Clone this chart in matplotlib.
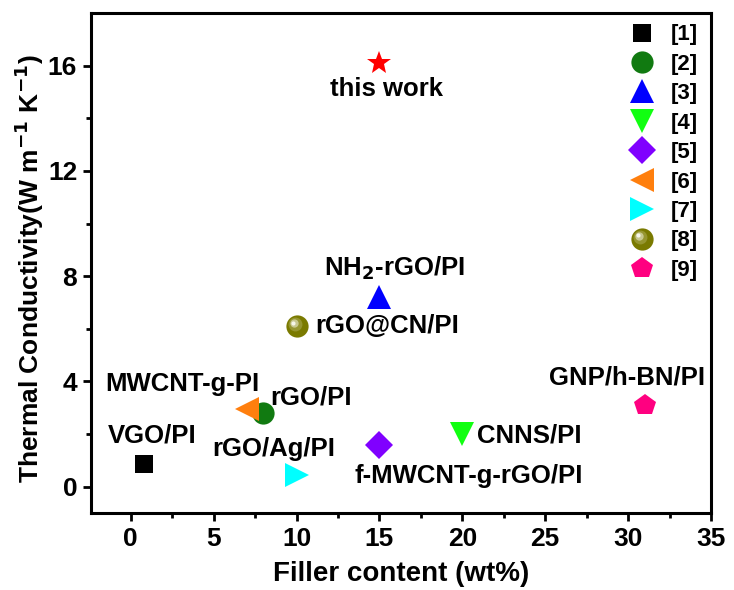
import matplotlib
matplotlib.use("Agg")
import matplotlib.pyplot as plt
from matplotlib.legend_handler import HandlerTuple, HandlerLine2D
from matplotlib.transforms import ScaledTranslation

plt.rcParams['font.family'] = ['Liberation Sans', 'DejaVu Sans']
plt.rcParams['font.weight'] = 'bold'
plt.rcParams['mathtext.default'] = 'bf'

# Literature data: filler content (wt%) and thermal conductivity (W m-1 K-1)
refs = ["[1]", "[2]", "[3]", "[4]", "[5]", "[6]", "[7]", "[8]", "[9]"]
filler = [0.8, 8.0, 15.0, 20.0, 15.0, 7.0, 10.0, 10.0, 31.0]
conductivity = [0.85, 2.8, 7.2, 2.0, 1.6, 2.95, 0.45, 6.1, 3.1]
names = ["VGO/PI", "rGO/PI", "NH$_2$-rGO/PI", "CNNS/PI", "f-MWCNT-g-rGO/PI",
         "MWCNT-g-PI", "rGO/Ag/PI", "rGO@CN/PI", "GNP/h-BN/PI"]
markers = ["s", "o", "^", "v", "D", "<", ">", "o", "p"]
colors = ["#000000", "#117a11", "#0000ff", "#11ff11", "#8000ff",
          "#ff7f0e", "#00ffff", "#7a7a00", "#ff0080"]
sizes = [13, 16, 17, 17, 14, 17, 17, 16, 16]

this_work_filler = 15.0
this_work_tc = 16.1


class OffsetMarkerHandler(HandlerLine2D):
    """Legend handler that shifts the marker by (dx, dy) points."""

    def __init__(self, dx, dy, **kw):
        super().__init__(**kw)
        self.dx, self.dy = dx, dy

    def create_artists(self, legend, orig_handle, xdescent, ydescent,
                       width, height, fontsize, trans):
        artists = super().create_artists(legend, orig_handle, xdescent, ydescent,
                                         width, height, fontsize, trans)
        off = ScaledTranslation(self.dx / 72, self.dy / 72, legend.figure.dpi_scale_trans)
        for a in artists:
            a.set_transform(a.get_transform() + off)
        return artists


fig = plt.figure(figsize=(7.34, 5.90), dpi=100)
ax = fig.add_axes([0.124, 0.1305, 0.8447, 0.8475])

handles = []
handler_map = {tuple: HandlerTuple(ndivide=1, pad=0)}
for i in range(len(refs)):
    h, = ax.plot(filler[i], conductivity[i], linestyle="none", marker=markers[i],
                 color=colors[i], markersize=sizes[i], markeredgewidth=0, zorder=3)
    if i == 7:
        # glossy highlight on the sphere marker
        parts = [h]
        for ms, col, d, z in [(10, "#969630", 1.3, 4), (6, "#c8c890", 2.2, 5), (3, "#f6f6ea", 2.6, 6)]:
            off = ScaledTranslation(-d / 72, d / 72, fig.dpi_scale_trans)
            hl, = ax.plot(filler[i], conductivity[i], linestyle="none", marker="o",
                          color=col, markersize=ms, markeredgewidth=0, zorder=z,
                          transform=ax.transData + off)
            handler_map[hl] = OffsetMarkerHandler(-d, d)
            parts.append(hl)
        handles.append(tuple(parts))
    else:
        handles.append(h)

ax.plot(this_work_filler, this_work_tc, linestyle="none", marker="*",
        color="#ff0000", markersize=18, markeredgewidth=0, zorder=3)

fs = 18.5
ax.text(15.45, 15.1, "this work", ha="center", va="center", fontsize=fs)
ax.text(15.9, 8.3, names[2], ha="center", va="center", fontsize=fs)
ax.text(11.1, 6.1, names[7], ha="left", va="center", fontsize=fs)
ax.text(-1.57, 3.9, names[5], ha="left", va="center", fontsize=fs)
ax.text(8.4, 3.4, names[1], ha="left", va="center", fontsize=fs)
ax.text(-1.39, 1.93, names[0], ha="left", va="center", fontsize=fs)
ax.text(4.9, 1.44, names[6], ha="left", va="center", fontsize=fs)
ax.text(13.5, 0.42, names[4], ha="left", va="center", fontsize=fs)
ax.text(20.9, 1.93, names[3], ha="left", va="center", fontsize=fs)
ax.text(25.2, 4.13, names[8], ha="left", va="center", fontsize=fs)

ax.set_xlim(-2.4, 35)
ax.set_ylim(-1, 18)
ax.set_xticks([0, 5, 10, 15, 20, 25, 30, 35])
ax.set_yticks([0, 4, 8, 12, 16])
ax.set_xticks([2.5, 7.5, 12.5, 17.5, 22.5, 27.5, 32.5], minor=True)
ax.set_yticks([2, 6, 10, 14], minor=True)
ax.tick_params(axis="both", which="major", direction="out", length=6, width=2,
               labelsize=19, pad=4)
ax.tick_params(axis="both", which="minor", direction="out", length=3.5, width=2)
for sp in ax.spines.values():
    sp.set_linewidth(2.2)

ax.set_xlabel("Filler content (wt%)", fontsize=20, fontweight="bold", labelpad=7)
ax.set_ylabel("Thermal Conductivity(W m$^{-1}$ K$^{-1}$)", fontsize=19,
              fontweight="bold")
ax.yaxis.set_label_coords(-0.072, 0.488)

leg = ax.legend(handles, refs, loc="upper right", frameon=False, fontsize=16,
                handler_map=handler_map, handletextpad=0.5, labelspacing=0.38,
                borderaxespad=0.0, bbox_to_anchor=(0.993, 0.995), handlelength=1.6)

fig.savefig("out.png", dpi=100)
